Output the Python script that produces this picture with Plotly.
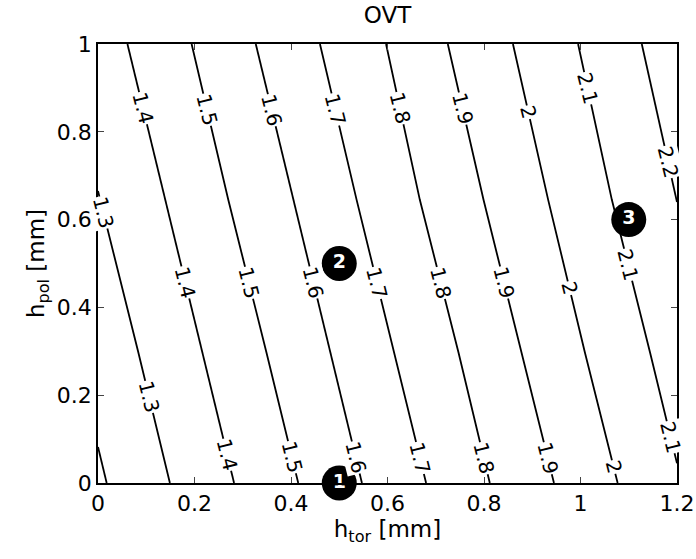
import numpy as np
import plotly.graph_objects as go

# Contour levels and line points (x = h_tor, y = h_pol)
levels = [1.2, 1.3, 1.4, 1.5, 1.6, 1.7, 1.8, 1.9, 2.0, 2.1, 2.2]
line_x = [
    [0.018, 0.0],
    [0.149, 0.0835, 0.0],
    [0.282, 0.216, 0.139, 0.061],
    [0.415, 0.349, 0.270, 0.194],
    [0.547, 0.481, 0.405, 0.327],
    [0.680, 0.613, 0.536, 0.460],
    [0.812, 0.747, 0.667, 0.597],
    [0.945, 0.878, 0.799, 0.725],
    [1.077, 1.009, 0.933, 0.860],
    [1.200, 1.144, 1.065, 0.995],
    [1.200, 1.127],
]
line_y = [
    [0.0, 0.082],
    [0.0, 0.298, 0.665],
    [0.0, 0.298, 0.645, 1.0],
    [0.0, 0.298, 0.645, 1.0],
    [0.0, 0.298, 0.645, 1.0],
    [0.0, 0.298, 0.645, 1.0],
    [0.0, 0.298, 0.645, 1.0],
    [0.0, 0.298, 0.645, 1.0],
    [0.0, 0.298, 0.645, 1.0],
    [0.045, 0.298, 0.645, 1.0],
    [0.64, 1.0],
]
# contour label heights (h_pol) per level
label_y = [
    [],
    [0.615, 0.196],
    [0.854, 0.456, 0.064],
    [0.850, 0.456, 0.059],
    [0.850, 0.456, 0.059],
    [0.850, 0.456, 0.057],
    [0.854, 0.456, 0.057],
    [0.854, 0.456, 0.057],
    [0.845, 0.444, 0.036],
    [0.900, 0.497, 0.105],
    [0.731],
]

# numbered design points
pt_x = [0.5, 0.5, 1.1]
pt_y = [0.0, 0.5, 0.6]
pt_labels = ["1", "2", "3"]

x_ticks = [0, 0.2, 0.4, 0.6, 0.8, 1.0, 1.2]
y_ticks = [0, 0.2, 0.4, 0.6, 0.8, 1.0]

FONT = "DejaVu Sans, Arial, sans-serif"

fig = go.Figure()
for lv, xs, ys in zip(levels, line_x, line_y):
    fig.add_trace(go.Scatter(x=xs, y=ys, mode="lines",
                             line=dict(color="black", width=1.8),
                             showlegend=False, hoverinfo="skip"))

annotations = []
for lv, xs, ys, lys in zip(levels, line_x, line_y, label_y):
    order = np.argsort(ys)
    yy = np.array(ys)[order]
    xx = np.array(xs)[order]
    txt = f"{lv:g}"
    for ly in lys:
        lx = float(np.interp(ly, yy, xx))
        annotations.append(dict(
            x=lx, y=ly, xref="x", yref="y", text=txt, showarrow=False,
            textangle=76, bgcolor="white", borderpad=0,
            font=dict(family=FONT, size=20, color="black"),
        ))

fig.add_trace(go.Scatter(
    x=pt_x, y=pt_y, mode="markers+text", text=pt_labels,
    textposition="middle center",
    textfont=dict(family=FONT, size=19, color="white", weight="bold"),
    marker=dict(size=35, color="black"),
    cliponaxis=False, showlegend=False, hoverinfo="skip"))

fig.update_layout(
    width=696, height=559,
    margin=dict(l=98, r=19, t=44, b=76, autoexpand=False),
    paper_bgcolor="white", plot_bgcolor="white",
    font=dict(family=FONT, size=22, color="black"),
    title=dict(text="OVT", x=0.5, xref="paper", xanchor="center",
               y=1, yref="container", yanchor="top", pad=dict(t=7),
               font=dict(family=FONT, size=23, color="black")),
    annotations=annotations,
    xaxis=dict(range=[0, 1.2], tickvals=x_ticks, ticks="inside", ticklen=6,
               showline=True, linecolor="black", linewidth=1.5, mirror="ticks",
               showgrid=False, zeroline=False, automargin=False,
               tickfont=dict(family=FONT, size=22),
               title=dict(text="h<sub>tor</sub> [mm]", standoff=2,
                          font=dict(family=FONT, size=23))),
    yaxis=dict(range=[0, 1], tickvals=y_ticks, ticks="inside", ticklen=6,
               showline=True, linecolor="black", linewidth=1.5, mirror="ticks",
               showgrid=False, zeroline=False, automargin=False,
               tickfont=dict(family=FONT, size=22),
               title=dict(text="h<sub>pol</sub> [mm]", standoff=6,
                          font=dict(family=FONT, size=23))),
)

fig.write_html("out.html")
